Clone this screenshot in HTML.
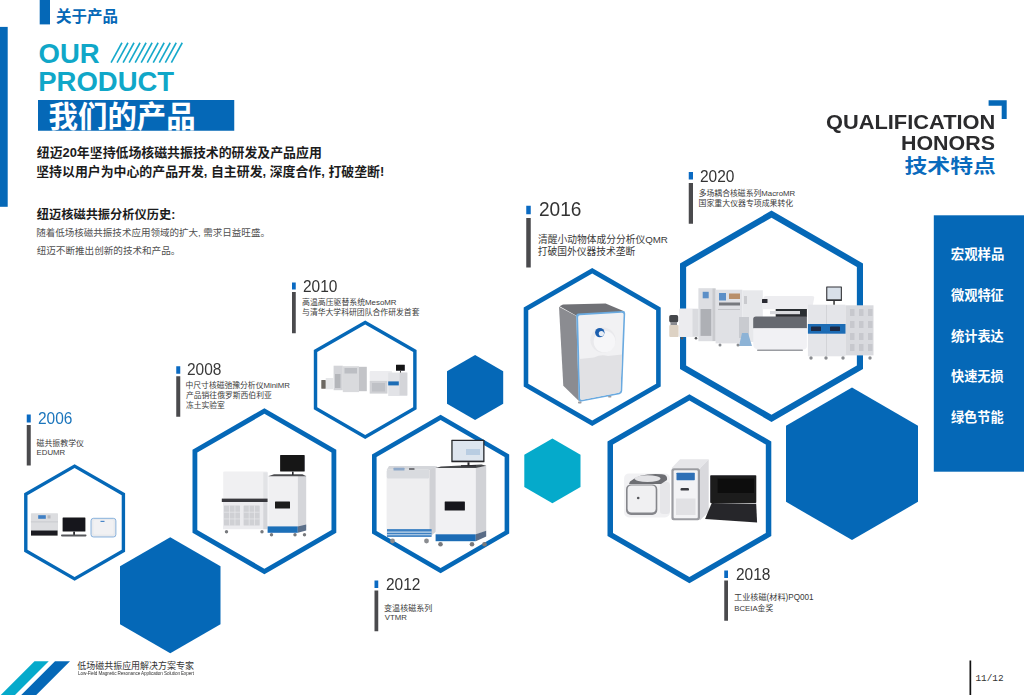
<!DOCTYPE html>
<html lang="zh-CN"><head><meta charset="utf-8"><title>OUR PRODUCT</title><style>
html,body{margin:0;padding:0;background:#fff;}
body{width:1024px;height:695px;position:relative;overflow:hidden;font-family:"Liberation Sans",sans-serif;}
#art{position:absolute;left:0;top:0;width:1024px;height:695px;display:block;}
#art text{font-family:"Liberation Sans","Noto Sans CJK SC",sans-serif;}
.t{position:absolute;white-space:nowrap;line-height:1;transform-origin:0 0;margin:0;padding:0;}
.h{position:absolute;white-space:nowrap;line-height:1;color:transparent;margin:0;padding:0;overflow:hidden;pointer-events:none;}
</style></head><body>
<svg id="art" width="1024" height="695" viewBox="0 0 1024 695">
<rect x="39.70" y="0.00" width="10.30" height="24.40" fill="#0568B7"/>
<rect x="0.00" y="26.90" width="7.70" height="179.90" fill="#0568B7"/>
<rect x="38.00" y="100.00" width="196.25" height="30.75" fill="#0568B7"/>
<path d="M111.06 62.7L121.96 42.75" stroke="#17A9CB" stroke-width="1.6" fill="none"/>
<path d="M117.09 62.7L127.99 42.75" stroke="#17A9CB" stroke-width="1.6" fill="none"/>
<path d="M123.12 62.7L134.02 42.75" stroke="#17A9CB" stroke-width="1.6" fill="none"/>
<path d="M129.15 62.7L140.05 42.75" stroke="#17A9CB" stroke-width="1.6" fill="none"/>
<path d="M135.18 62.7L146.08 42.75" stroke="#17A9CB" stroke-width="1.6" fill="none"/>
<path d="M141.21 62.7L152.11 42.75" stroke="#17A9CB" stroke-width="1.6" fill="none"/>
<path d="M147.24 62.7L158.14 42.75" stroke="#17A9CB" stroke-width="1.6" fill="none"/>
<path d="M153.27 62.7L164.17 42.75" stroke="#17A9CB" stroke-width="1.6" fill="none"/>
<path d="M159.30 62.7L170.20 42.75" stroke="#17A9CB" stroke-width="1.6" fill="none"/>
<path d="M165.33 62.7L176.23 42.75" stroke="#17A9CB" stroke-width="1.6" fill="none"/>
<path d="M171.36 62.7L182.26 42.75" stroke="#17A9CB" stroke-width="1.6" fill="none"/>
<path d="M170.25 537.25L220.50 566.25L220.50 624.25L170.25 653.25L120.00 624.25L120.00 566.25Z" fill="#0568B7"/>
<path d="M475.10 355.05L503.20 371.27L503.20 403.73L475.10 419.95L447.00 403.73L447.00 371.27Z" fill="#0568B7"/>
<path d="M552.40 438.45L580.50 454.67L580.50 487.12L552.40 503.35L524.30 487.12L524.30 454.67Z" fill="#05AACB"/>
<path d="M852.00 387.55L918.00 425.65L918.00 501.85L852.00 539.95L786.00 501.85L786.00 425.65Z" fill="#0568B7"/>
<path d="M74.60 464.20L125.10 493.35L125.10 551.65L74.60 580.80L24.10 551.65L24.10 493.35Z" fill="#fff"/>
<path fill-rule="evenodd" d="M74.60 464.20L125.10 493.35L125.10 551.65L74.60 580.80L24.10 551.65L24.10 493.35ZM74.60 468.10L121.72 495.30L121.72 549.70L74.60 576.90L27.48 549.70L27.48 495.30Z" fill="#0568B7"/>
<path d="M264.40 408.25L336.30 449.75L336.30 532.75L264.40 574.25L192.50 532.75L192.50 449.75Z" fill="#fff"/>
<path fill-rule="evenodd" d="M264.40 408.25L336.30 449.75L336.30 532.75L264.40 574.25L192.50 532.75L192.50 449.75ZM264.40 413.81L331.49 452.53L331.49 529.97L264.40 568.69L197.31 529.97L197.31 452.53Z" fill="#0568B7"/>
<path d="M365.20 320.50L416.60 350.10L416.60 409.30L365.20 438.90L313.80 409.30L313.80 350.10Z" fill="#fff"/>
<path fill-rule="evenodd" d="M365.20 320.50L416.60 350.10L416.60 409.30L365.20 438.90L313.80 409.30L313.80 350.10ZM365.20 324.46L413.17 352.08L413.17 407.32L365.20 434.94L317.23 407.32L317.23 352.08Z" fill="#0568B7"/>
<path d="M440.60 414.80L509.20 454.40L509.20 533.60L440.60 573.20L372.00 533.60L372.00 454.40Z" fill="#fff"/>
<path fill-rule="evenodd" d="M440.60 414.80L509.20 454.40L509.20 533.60L440.60 573.20L372.00 533.60L372.00 454.40ZM440.60 420.10L504.61 457.05L504.61 530.95L440.60 567.90L376.59 530.95L376.59 457.05Z" fill="#0568B7"/>
<path d="M592.20 268.10L660.70 307.55L660.70 386.45L592.20 425.90L523.70 386.45L523.70 307.55Z" fill="#fff"/>
<path fill-rule="evenodd" d="M592.20 268.10L660.70 307.55L660.70 386.45L592.20 425.90L523.70 386.45L523.70 307.55ZM592.20 273.38L656.12 310.19L656.12 383.81L592.20 420.62L528.28 383.81L528.28 310.19Z" fill="#0568B7"/>
<path d="M771.50 210.60L863.00 263.43L863.00 369.07L771.50 421.90L680.00 369.07L680.00 263.43Z" fill="#fff"/>
<path fill-rule="evenodd" d="M771.50 210.60L863.00 263.43L863.00 369.07L771.50 421.90L680.00 369.07L680.00 263.43ZM771.50 217.68L856.87 266.96L856.87 365.54L771.50 414.82L686.13 365.54L686.13 266.96Z" fill="#0568B7"/>
<path d="M689.40 394.15L771.30 441.45L771.30 536.05L689.40 583.35L607.50 536.05L607.50 441.45Z" fill="#fff"/>
<path fill-rule="evenodd" d="M689.40 394.15L771.30 441.45L771.30 536.05L689.40 583.35L607.50 536.05L607.50 441.45ZM689.40 400.49L765.81 444.62L765.81 532.88L689.40 577.01L612.99 532.88L612.99 444.62Z" fill="#0568B7"/>
<rect x="933.80" y="215.30" width="90.20" height="256.40" fill="#0568B7"/>
<path d="M988.60 100.30L1006.70 100.30L1006.70 118.90L1001.70 118.90L1001.70 105.80L988.60 105.80Z" fill="#0568B7"/>
<path d="M34.50 661.25L48.75 661.25L15.00 695.00L0.75 695.00Z" fill="#05AACB"/>
<path d="M55.00 661.25L70.00 661.25L36.25 695.00L21.25 695.00Z" fill="#0568B7"/>
<rect x="969.50" y="660.50" width="1.70" height="34.50" fill="#111"/>
<rect x="26.75" y="414.50" width="4.00" height="8.00" fill="#0A6AC2"/>
<rect x="26.75" y="425.00" width="4.00" height="40.50" fill="#4A4A4D"/>
<rect x="176.25" y="366.25" width="4.00" height="7.50" fill="#0A6AC2"/>
<rect x="176.25" y="376.25" width="4.00" height="40.50" fill="#4A4A4D"/>
<rect x="292.00" y="282.50" width="3.75" height="7.00" fill="#0A6AC2"/>
<rect x="292.00" y="292.00" width="3.75" height="41.25" fill="#4A4A4D"/>
<rect x="374.50" y="580.50" width="3.75" height="7.50" fill="#0A6AC2"/>
<rect x="374.50" y="590.50" width="3.75" height="40.75" fill="#4A4A4D"/>
<rect x="526.25" y="205.75" width="4.50" height="8.50" fill="#0A6AC2"/>
<rect x="526.25" y="218.00" width="4.50" height="49.50" fill="#4A4A4D"/>
<rect x="724.25" y="570.50" width="3.75" height="7.50" fill="#0A6AC2"/>
<rect x="724.25" y="580.50" width="3.75" height="40.25" fill="#4A4A4D"/>
<rect x="688.75" y="172.00" width="4.25" height="7.50" fill="#0A6AC2"/>
<rect x="688.75" y="183.00" width="4.25" height="40.75" fill="#4A4A4D"/>
<filter id="sf" x="-5%" y="-5%" width="110%" height="110%"><feGaussianBlur stdDeviation="0.35"/></filter><g id="products" filter="url(#sf)">
<rect x="30.90" y="513.20" width="27.10" height="17.60" fill="#dcdde0" rx="0.60"/>
<rect x="30.90" y="521.50" width="27.10" height="0.80" fill="#c4c5c9"/>
<rect x="38.20" y="515.20" width="7.60" height="3.60" fill="#3f7fc4"/>
<rect x="47.50" y="515.30" width="3.00" height="3.20" fill="#b9babd"/>
<rect x="31.00" y="530.50" width="26.60" height="5.10" fill="#1d1d20"/>
<rect x="62.60" y="517.50" width="22.80" height="14.10" fill="#17171a" rx="0.50"/>
<rect x="73.20" y="531.60" width="1.80" height="3.40" fill="#2a2a2d"/>
<rect x="61.00" y="534.60" width="25.50" height="1.80" fill="#55565a" rx="0.80"/>
<rect x="91.00" y="518.30" width="24.90" height="18.70" fill="#e9eaed" rx="2.50" stroke="#5b96d3" stroke-width="0.7"/>
<rect x="93.50" y="520.00" width="20.00" height="14.50" fill="#f1f1f3" rx="1.50"/>
<rect x="100.50" y="520.80" width="4.00" height="1.20" fill="#4a86c8"/>
<rect x="223.20" y="471.60" width="44.40" height="27.20" fill="#f0f0f2" rx="1.00"/>
<rect x="263.30" y="472.40" width="4.30" height="26.40" fill="#e2e3e6"/>
<rect x="221.80" y="498.60" width="45.80" height="3.40" fill="#38393e"/>
<rect x="223.00" y="502.00" width="44.40" height="27.20" fill="#ebebee"/>
<rect x="224.00" y="505.50" width="16.00" height="20.10" fill="#cfd0d4" rx="0.50"/>
<rect x="243.60" y="505.50" width="16.10" height="20.10" fill="#cfd0d4" rx="0.50"/>
<rect x="229.20" y="505.50" width="0.70" height="20.10" fill="#e8e8eb"/>
<rect x="234.60" y="505.50" width="0.70" height="20.10" fill="#e8e8eb"/>
<rect x="248.80" y="505.50" width="0.70" height="20.10" fill="#e8e8eb"/>
<rect x="254.30" y="505.50" width="0.70" height="20.10" fill="#e8e8eb"/>
<rect x="224.00" y="511.80" width="16.00" height="0.70" fill="#e8e8eb"/>
<rect x="243.60" y="511.80" width="16.10" height="0.70" fill="#e8e8eb"/>
<rect x="224.00" y="518.60" width="16.00" height="0.70" fill="#e8e8eb"/>
<rect x="243.60" y="518.60" width="16.10" height="0.70" fill="#e8e8eb"/>
<rect x="263.30" y="502.00" width="4.10" height="27.20" fill="#d4d5d9"/>
<circle cx="226.50" cy="531.80" r="1.70" fill="#77797d"/>
<circle cx="262.00" cy="531.80" r="1.70" fill="#77797d"/>
<rect x="268.30" y="475.20" width="29.50" height="51.80" fill="#f0f0f2"/>
<rect x="297.80" y="475.60" width="8.40" height="51.40" fill="#d5d6da"/>
<path d="M274.00 474.30L302.50 474.30L306.20 476.20L268.30 476.20Z" fill="#4b4c50"/>
<rect x="275.00" y="501.40" width="15.00" height="7.00" fill="#1a1a1d" rx="0.50"/>
<rect x="267.60" y="526.40" width="30.20" height="6.40" fill="#1f6fb8"/>
<path d="M297.80 526.40L306.20 524.60L306.20 530.50L297.80 532.80Z" fill="#5b6f8a"/>
<circle cx="271.50" cy="534.80" r="1.70" fill="#77797d"/>
<circle cx="295.00" cy="534.80" r="1.70" fill="#77797d"/>
<circle cx="304.50" cy="534.80" r="1.70" fill="#77797d"/>
<rect x="280.10" y="455.10" width="24.60" height="16.50" fill="#141417" rx="0.60"/>
<rect x="292.00" y="471.60" width="1.60" height="3.40" fill="#2a2a2d"/>
<rect x="321.30" y="379.90" width="4.60" height="8.80" fill="#6d6862" rx="0.50"/>
<rect x="325.70" y="378.00" width="7.50" height="11.20" fill="#e6e7e9" rx="0.50"/>
<rect x="333.60" y="365.70" width="9.20" height="24.50" fill="#d3d4d8"/>
<rect x="335.00" y="374.00" width="5.50" height="14.00" fill="#b4b6ba"/>
<rect x="342.80" y="366.20" width="16.20" height="25.90" fill="#d9dadd"/>
<rect x="359.00" y="366.80" width="7.80" height="24.40" fill="#c3c4c8"/>
<rect x="344.50" y="368.00" width="12.50" height="5.50" fill="#bcbec3"/>
<rect x="369.70" y="371.10" width="22.40" height="10.10" fill="#ececef" rx="1.00"/>
<rect x="369.70" y="380.90" width="17.80" height="12.70" fill="#d0d1d5"/>
<rect x="372.00" y="383.00" width="13.00" height="8.50" fill="#bfc1c6"/>
<rect x="388.20" y="372.60" width="19.10" height="23.40" fill="#e2e3e7"/>
<rect x="399.50" y="372.60" width="7.80" height="22.60" fill="#d4d5d9"/>
<rect x="388.20" y="381.40" width="10.60" height="4.00" fill="#1d6cb5"/>
<rect x="396.00" y="364.80" width="8.80" height="6.00" fill="#141417" rx="0.30"/>
<rect x="400.00" y="370.80" width="0.90" height="1.80" fill="#333"/>
<path d="M386.60 470.00L389.00 466.10L436.50 466.10L431.80 470.00Z" fill="#d4d6da"/>
<rect x="386.60" y="469.50" width="42.80" height="67.40" fill="#eeeef0" rx="1.50"/>
<path d="M429.40 470.00L437.00 466.30L437.00 531.00L429.40 536.90Z" fill="#d0d1d5"/>
<rect x="386.80" y="469.50" width="42.40" height="9.00" fill="#d9dbdf" rx="1.50"/>
<rect x="393.50" y="467.80" width="11.00" height="2.80" fill="#8fa9c9" rx="0.50"/>
<rect x="409.00" y="468.20" width="5.50" height="1.60" fill="#55575c" rx="0.40"/>
<rect x="387.00" y="529.10" width="44.60" height="7.80" fill="#3c80c2"/>
<rect x="387.00" y="531.60" width="44.60" height="1.00" fill="#e8eef6"/>
<rect x="387.00" y="534.40" width="44.60" height="0.80" fill="#e8eef6"/>
<circle cx="392.50" cy="541.00" r="2.40" fill="#8a8c90"/>
<circle cx="426.50" cy="541.00" r="2.40" fill="#8a8c90"/>
<rect x="435.60" y="467.80" width="40.20" height="66.80" fill="#f1f1f3"/>
<path d="M475.80 467.80L486.20 465.60L486.20 531.00L475.80 534.60Z" fill="#d1d2d6"/>
<path d="M441.00 466.60L481.50 464.40L486.20 465.70L475.80 468.10L435.60 468.10Z" fill="#47484c"/>
<rect x="444.70" y="501.50" width="20.20" height="9.10" fill="#19191c" rx="0.50"/>
<rect x="435.60" y="534.30" width="40.20" height="6.90" fill="#1d6cb5"/>
<path d="M475.80 534.30L486.20 530.80L486.20 536.60L475.80 541.20Z" fill="#5a6c86"/>
<circle cx="440.50" cy="544.30" r="2.30" fill="#77797d"/>
<circle cx="472.00" cy="544.30" r="2.30" fill="#77797d"/>
<circle cx="484.50" cy="544.30" r="2.30" fill="#77797d"/>
<rect x="451.30" y="439.80" width="33.20" height="22.50" fill="#26272b" rx="0.60"/>
<rect x="452.60" y="441.00" width="30.60" height="19.60" fill="#dde5ee"/>
<rect x="466.00" y="449.00" width="14.00" height="6.00" fill="#b9cde2"/>
<rect x="467.50" y="462.30" width="2.00" height="3.70" fill="#2a2a2d"/>
<rect x="461.00" y="465.20" width="15.00" height="1.20" fill="#2a2a2d"/>
<path d="M559.00 306.80L576.30 316.00L578.90 401.00L563.30 385.80Z" fill="#8b8c91"/>
<path d="M559.60 306.20L563.00 304.60L605.60 303.60L624.60 311.60L580.00 316.40L576.00 315.60Z" fill="#707176"/>
<path d="M578.5 313.6 Q576 313.8 576.2 316.5 L578.6 399.5 Q578.8 402 581.5 401.6 L619.5 394.2 Q622 393.6 622.2 391 L625.2 313.5 Q625.3 310.9 622.6 311.1 Z" fill="#6aaae0"/>
<path d="M580 315.2 Q578 315.3 578.1 317.5 L580.3 398.2 Q580.4 400.1 582.3 399.8 L618.5 392.8 Q620.4 392.4 620.5 390.4 L623.6 314.6 Q623.7 312.6 621.6 312.7 Z" fill="#f1f1f3"/>
<path d="M579.4 359 L594 357.4 Q601 354 608 356 L622 354.6 L620.5 390.4 Q620.4 392.4 618.5 392.8 L582.3 399.8 Q580.4 400.1 580.3 398.2 Z" fill="#e1e1e4"/>
<circle cx="603.00" cy="340.00" r="12.60" fill="#e9e9ec"/>
<circle cx="604.50" cy="341.50" r="10.80" fill="#f6f6f8"/>
<circle cx="599.80" cy="332.60" r="4.70" fill="#1e5fae"/>
<circle cx="601.40" cy="333.60" r="2.60" fill="#e8eef6"/>
<rect x="578.00" y="401.50" width="3.50" height="2.00" fill="#9a9ba0" rx="0.80"/>
<rect x="608.00" y="396.00" width="3.50" height="1.60" fill="#9a9ba0" rx="0.80"/>
<rect x="669.20" y="315.00" width="9.00" height="7.50" fill="#45464b" rx="1.80"/>
<rect x="670.50" y="322.00" width="6.50" height="3.50" fill="#8a8b90"/>
<rect x="669.30" y="325.00" width="9.30" height="11.90" fill="#ddd2c4" rx="1.00"/>
<rect x="679.00" y="308.40" width="19.40" height="28.50" fill="#ececef" rx="1.00"/>
<rect x="692.50" y="309.00" width="5.90" height="27.50" fill="#dadbdf"/>
<circle cx="682.00" cy="338.20" r="1.30" fill="#55565a"/>
<circle cx="696.00" cy="338.20" r="1.30" fill="#55565a"/>
<rect x="698.40" y="288.20" width="17.20" height="53.00" fill="#dddee2"/>
<rect x="700.50" y="309.00" width="10.80" height="26.90" fill="#aeb0b5"/>
<rect x="702.70" y="291.80" width="6.00" height="6.50" fill="#5b8fc7"/>
<rect x="712.50" y="288.60" width="3.10" height="52.40" fill="#c9cace"/>
<rect x="715.60" y="289.70" width="26.80" height="53.70" fill="#e0e1e5"/>
<rect x="742.40" y="290.30" width="20.40" height="51.70" fill="#e7e8eb"/>
<rect x="719.00" y="293.00" width="7.00" height="7.50" fill="#5b8fc7"/>
<rect x="729.00" y="293.50" width="11.00" height="5.50" fill="#b98f6a"/>
<rect x="719.00" y="302.50" width="21.00" height="3.00" fill="#77797e"/>
<rect x="718.00" y="309.00" width="22.00" height="1.00" fill="#c4c5c9"/>
<rect x="744.00" y="296.00" width="3.00" height="8.00" fill="#c9cace"/>
<rect x="811.00" y="308.00" width="5.00" height="3.00" fill="#b7b9be"/>
<rect x="739.00" y="317.00" width="10.00" height="21.00" fill="#c9cbd0"/>
<path d="M742.00 333.00L748.00 333.00L752.00 346.00L739.00 346.00Z" fill="#8db3d6"/>
<circle cx="720.00" cy="345.00" r="1.50" fill="#8a8c90"/>
<circle cx="738.00" cy="345.00" r="1.50" fill="#8a8c90"/>
<circle cx="760.00" cy="345.00" r="1.50" fill="#8a8c90"/>
<path d="M763.5 297.5 Q764 296 766 296 L812 296 Q814.6 296 814.2 298 L812 309.2 L761.7 309.2 Z" fill="#ededf0"/>
<rect x="762.00" y="299.00" width="5.50" height="4.00" fill="#2b2c30" rx="0.50"/>
<rect x="775.70" y="309.00" width="31.20" height="8.00" fill="#2c2d31"/>
<rect x="770.00" y="311.00" width="30.00" height="3.20" fill="#d9dade"/>
<path d="M753.2 319 Q753.2 316.5 756 316.5 L806.9 316.5 L806.9 328.6 L753.2 328.6 Z" fill="#666970"/>
<path d="M753.2 328.3 L806.9 328.3 L806.9 346 Q806.9 349.8 802 349.8 L760 349.8 Q753.2 349.8 753.2 344 Z" fill="#f1f1f4"/>
<rect x="757.00" y="349.50" width="46.00" height="1.50" fill="#9a9ca1" rx="0.70"/>
<rect x="807.90" y="304.70" width="37.60" height="51.60" fill="#e4e5e9"/>
<rect x="826.20" y="305.00" width="0.80" height="51.00" fill="#cfd0d4"/>
<rect x="845.50" y="305.30" width="28.00" height="50.10" fill="#d9dade"/>
<rect x="850.00" y="309.00" width="4.50" height="7.00" fill="#c7c8cd"/>
<rect x="859.00" y="309.00" width="4.50" height="7.00" fill="#c7c8cd"/>
<rect x="868.00" y="309.00" width="4.50" height="7.00" fill="#c7c8cd"/>
<rect x="850.00" y="321.00" width="4.50" height="7.00" fill="#c7c8cd"/>
<rect x="859.00" y="321.00" width="4.50" height="7.00" fill="#c7c8cd"/>
<rect x="868.00" y="321.00" width="4.50" height="7.00" fill="#c7c8cd"/>
<rect x="850.00" y="333.00" width="4.50" height="7.00" fill="#c7c8cd"/>
<rect x="859.00" y="333.00" width="4.50" height="7.00" fill="#c7c8cd"/>
<rect x="868.00" y="333.00" width="4.50" height="7.00" fill="#c7c8cd"/>
<rect x="850.00" y="344.00" width="4.50" height="7.00" fill="#c7c8cd"/>
<rect x="859.00" y="344.00" width="4.50" height="7.00" fill="#c7c8cd"/>
<rect x="868.00" y="344.00" width="4.50" height="7.00" fill="#c7c8cd"/>
<rect x="807.90" y="324.00" width="37.60" height="9.70" fill="#1d6cb5"/>
<rect x="811.00" y="326.50" width="10.00" height="4.50" fill="#1b2c44" rx="0.60"/>
<rect x="830.00" y="326.50" width="10.00" height="4.50" fill="#1b2c44" rx="0.60"/>
<circle cx="811.00" cy="358.00" r="1.70" fill="#8a8c90"/>
<circle cx="826.00" cy="358.00" r="1.70" fill="#8a8c90"/>
<circle cx="843.00" cy="358.00" r="1.70" fill="#8a8c90"/>
<circle cx="870.00" cy="358.00" r="1.70" fill="#8a8c90"/>
<rect x="826.20" y="286.40" width="15.70" height="14.60" fill="#303136" rx="0.50"/>
<rect x="827.30" y="287.50" width="13.50" height="11.80" fill="#d8e0e9"/>
<rect x="833.30" y="301.00" width="1.50" height="3.70" fill="#333"/>
<rect x="624.10" y="473.40" width="45.80" height="44.10" fill="#f1f1f3" rx="5.00"/>
<rect x="660.00" y="482.00" width="9.90" height="32.00" fill="#e6e6e9" rx="3.00"/>
<path d="M630 481.5 Q640 472.6 662 474.3 Q668 475 667 480 L661 484 L629 484 Z" fill="#6d6e73"/>
<ellipse cx="647.5" cy="478.6" rx="13" ry="3.4" fill="#e3e3e6"/>
<rect x="626.00" y="484.40" width="31.30" height="30.60" fill="#85868b" rx="5.00"/>
<rect x="627.60" y="485.60" width="28.10" height="27.00" fill="#f0f0f2" rx="4.00"/>
<circle cx="638.20" cy="498.00" r="1.30" fill="#55565a"/>
<path d="M671.40 468.30L680.00 459.30L708.70 459.30L700.00 468.30Z" fill="#e6e6e9"/>
<path d="M700.00 468.30L708.70 459.30L708.70 512.00L700.00 520.30Z" fill="#d9d9dd"/>
<rect x="671.40" y="468.30" width="28.60" height="52.00" fill="#9b9ca1" rx="2.20"/>
<rect x="673.60" y="470.30" width="24.20" height="47.90" fill="#f3f3f5" rx="1.20"/>
<rect x="676.50" y="472.70" width="18.30" height="7.50" fill="#2d70b6" rx="0.60"/>
<rect x="680.50" y="488.00" width="8.50" height="2.60" fill="#3a3b40" rx="1.20"/>
<rect x="676.00" y="498.50" width="19.50" height="16.50" fill="#e1e1e4"/>
<rect x="710.20" y="475.20" width="46.10" height="27.80" fill="#1c1c1f" rx="0.80"/>
<rect x="717.50" y="478.50" width="36.50" height="14.50" fill="#0e0e10"/>
<path d="M711.70 503.00L756.20 503.80L757.10 522.50L705.10 519.00Z" fill="#28282b"/>
</g>
<text x="56.03" y="22.43" font-size="15.5" font-weight="bold" fill="#0568B7">关于产品</text>
<text x="48.59" y="126.81" font-size="29.43" font-weight="bold" fill="#fff">我们的产品</text>
<text x="36.75" y="157.30" font-size="12.9" font-weight="bold" fill="#1c1c1c">纽迈20年坚持低场核磁共振技术的研发及产品应用</text>
<text x="36.24" y="175.95" font-size="12.9" font-weight="bold" fill="#1c1c1c">坚持以用户为中心的产品开发, 自主研发, 深度合作, 打破垄断!</text>
<text x="36.77" y="218.76" font-size="12.22" font-weight="bold" fill="#1c1c1c">纽迈核磁共振分析仪历史:</text>
<text x="36.25" y="236.13" font-size="9.52" fill="#505050">随着低场核磁共振技术应用领域的扩大, 需求日益旺盛。</text>
<text x="36.68" y="254.03" font-size="9.58" fill="#505050">纽迈不断推出创新的技术和产品。</text>
<text x="36.54" y="445.53" font-size="7.91" fill="#3a3a3a">磁共振教学仪</text>
<text x="36.61" y="455.21" font-size="7.8" fill="#3a3a3a">EDUMR</text>
<text x="185.50" y="388.04" font-size="7.8" fill="#3a3a3a">中尺寸核磁弛豫分析仪MiniMR</text>
<text x="185.98" y="397.67" font-size="7.8" fill="#3a3a3a">产品销往俄罗斯西伯利亚</text>
<text x="185.95" y="408.09" font-size="7.8" fill="#3a3a3a">冻土实验室</text>
<text x="302.04" y="304.66" font-size="7.88" fill="#3a3a3a">高温高压驱替系统MesoMR</text>
<text x="302.05" y="315.15" font-size="7.83" fill="#3a3a3a">与清华大学科研团队合作研发首套</text>
<text x="384.08" y="610.57" font-size="8.05" fill="#3a3a3a">变温核磁系列</text>
<text x="384.79" y="620.31" font-size="7.8" fill="#3a3a3a">VTMR</text>
<text x="537.91" y="242.65" font-size="9.75" fill="#3a3a3a">清醒小动物体成分分析仪QMR</text>
<text x="537.87" y="255.09" font-size="9.75" fill="#3a3a3a">打破国外仪器技术垄断</text>
<text x="734.08" y="599.88" font-size="8.13" fill="#3a3a3a">工业核磁(材料)PQ001</text>
<text x="734.21" y="610.85" font-size="7.8" fill="#3a3a3a">BCEIA金奖</text>
<text x="698.66" y="196.17" font-size="7.83" fill="#3a3a3a">多场耦合核磁系列MacroMR</text>
<text x="698.57" y="206.25" font-size="7.9" fill="#3a3a3a">国家重大仪器专项成果转化</text>
<text transform="translate(904.50 172.77) scale(1.203 1)" x="0" y="0" font-size="19" font-weight="bold" fill="#0A6BBD">技术特点</text>
<text x="950.80" y="259.45" font-size="13.4" font-weight="bold" fill="#fff">宏观样品</text>
<text x="951.05" y="300.40" font-size="13.2" font-weight="bold" fill="#fff">微观特征</text>
<text x="950.96" y="340.75" font-size="13.22" font-weight="bold" fill="#fff">统计表达</text>
<text x="950.98" y="380.88" font-size="13.2" font-weight="bold" fill="#fff">快速无损</text>
<text x="950.92" y="421.68" font-size="13.22" font-weight="bold" fill="#fff">绿色节能</text>
<text x="77.30" y="669.22" font-size="8.98" fill="#333">低场磁共振应用解决方案专家</text>
</svg>
<div class="t" style="left:38.50px;top:39.60px;font-size:27.50px;color:#10A7C8;font-weight:bold;">OUR</div>
<div class="t" style="left:38.20px;top:68.15px;font-size:27.50px;color:#10A7C8;font-weight:bold;">PRODUCT</div>
<div class="t" style="left:37.51px;top:410.13px;font-size:16.40px;color:#1B75BC;transform:scaleX(0.9450);">2006</div>
<div class="t" style="left:187.01px;top:361.13px;font-size:16.40px;color:#3a3a3a;transform:scaleX(0.9450);">2008</div>
<div class="t" style="left:302.51px;top:277.63px;font-size:16.40px;color:#333;transform:scaleX(0.9450);">2010</div>
<div class="t" style="left:385.76px;top:575.63px;font-size:16.40px;color:#333;transform:scaleX(0.9450);">2012</div>
<div class="t" style="left:539.39px;top:199.09px;font-size:20.20px;color:#333;transform:scaleX(0.9450);">2016</div>
<div class="t" style="left:735.76px;top:565.63px;font-size:16.40px;color:#333;transform:scaleX(0.9450);">2018</div>
<div class="t" style="left:700.01px;top:168.13px;font-size:16.40px;color:#333;transform:scaleX(0.9450);">2020</div>
<div class="t" style="left:826.45px;top:113.20px;font-size:19.80px;color:#2b2b2d;font-weight:bold;transform:scaleX(1.1030);">QUALIFICATION</div>
<div class="t" style="left:900.80px;top:133.80px;font-size:19.80px;color:#2b2b2d;font-weight:bold;transform:scaleX(1.0820);">HONORS</div>
<div class="t" style="left:77.50px;top:671.10px;font-size:5.20px;color:#333;transform:scaleX(0.8900);letter-spacing:-0.100px;">Low-Field Magnetic Resonance Application Solution Expert</div>
<div class="t" style="left:975.40px;top:674.00px;font-size:9.40px;color:#333;font-family:'Liberation Mono',monospace;">11/12</div>
</body></html>
